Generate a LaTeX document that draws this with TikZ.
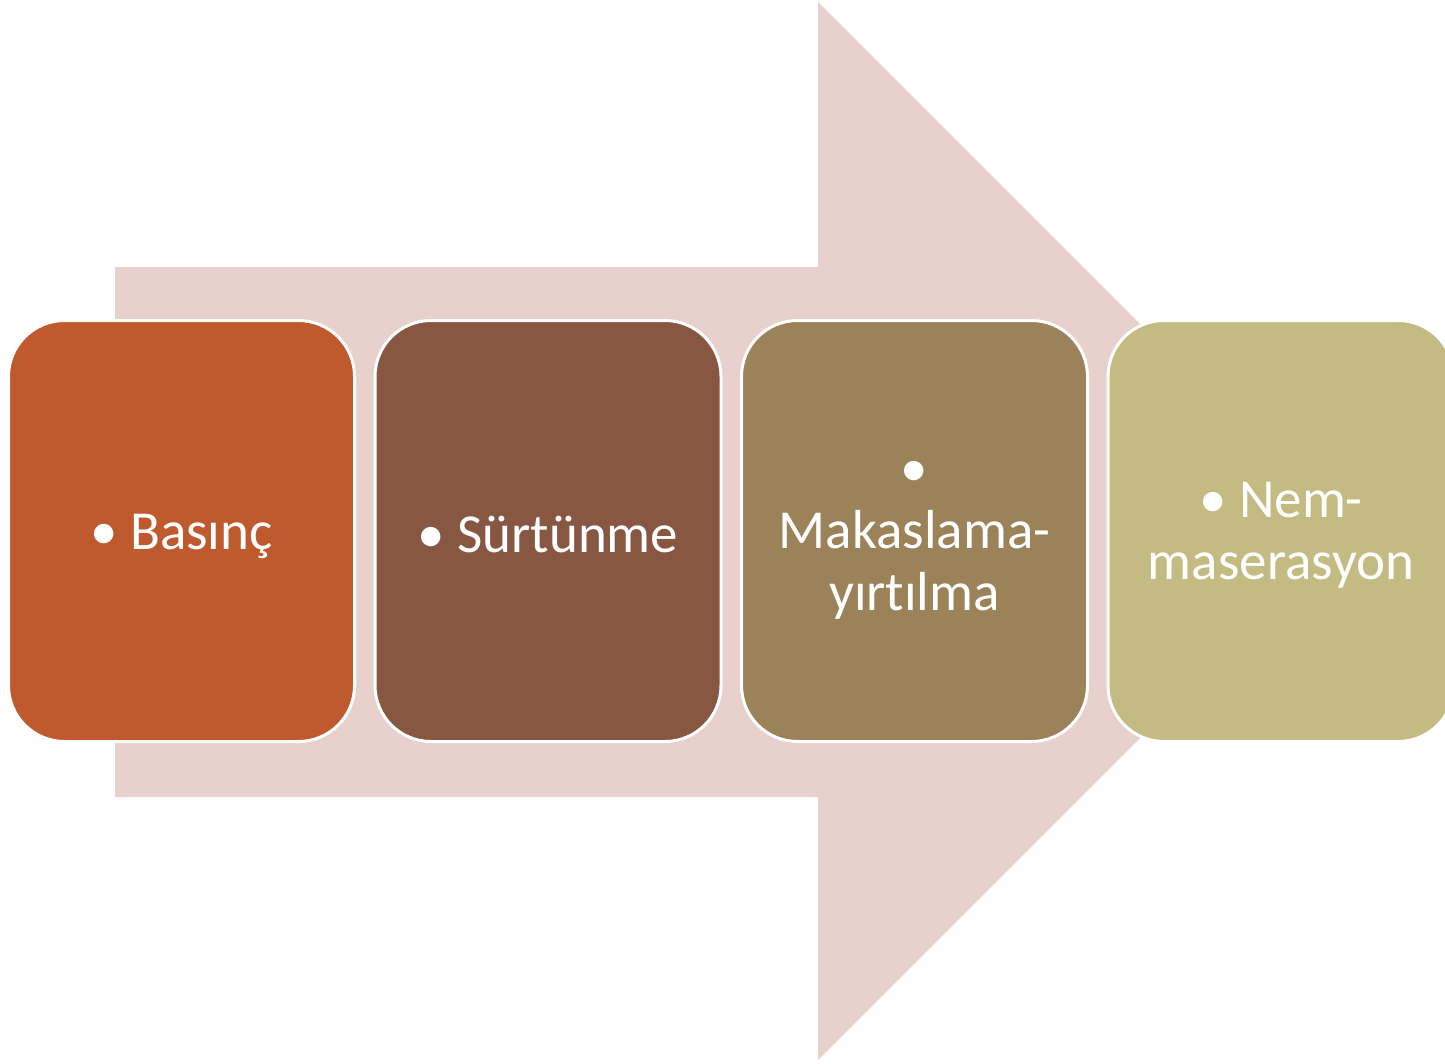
\documentclass[tikz,border=0pt]{standalone}
\usepackage{fontspec}
\setmainfont{Carlito}[RawFeature={-liga;-dlig}]
\definecolor{arrowpink}{HTML}{E8D1CC}
\definecolor{cA}{HTML}{BE5A2D}
\definecolor{cB}{HTML}{875741}
\definecolor{cC}{HTML}{9B8258}
\definecolor{cD}{HTML}{C3BB81}
\begin{document}
\begin{tikzpicture}[x=1pt,y=-1pt,
  box/.style={draw=white, line width=3pt, rounded corners=56pt, minimum width=346pt, minimum height=421pt, inner sep=0pt},
  lbl/.style={text=white, font=\fontsize{55}{62}\selectfont, align=center, inner sep=0pt}]
\useasboundingbox (0,0) rectangle (1445,1063);
\clip (0,0) rectangle (1445,1063);
\fill[arrowpink] (115,267) -- (818,267) -- (818,2) -- (1347,531) -- (818,1060) -- (818,797) -- (115,797) -- cycle;
\node[box, fill=cA] (b1) at (181.5,531) {};
\node[box, fill=cB] (b2) at (548,531) {};
\node[box, fill=cC] (b3) at (914.5,531) {};
\node[box, fill=cD] (b4) at (1281,531) {};
\node[lbl] (t1) at ([yshift=-5pt]b1.center) {• Basınç};
\node[lbl] (t2) at ([yshift=-3pt]b2.center) {• Sürtünme};
\node[lbl] (t3) at ([yshift=-9pt]b3.center) {•\\Makaslama-\\yırtılma};
\node[lbl] (t4) at ([yshift=-4pt]b4.center) {• Nem-\\maserasyon};
\end{tikzpicture}
\end{document}
